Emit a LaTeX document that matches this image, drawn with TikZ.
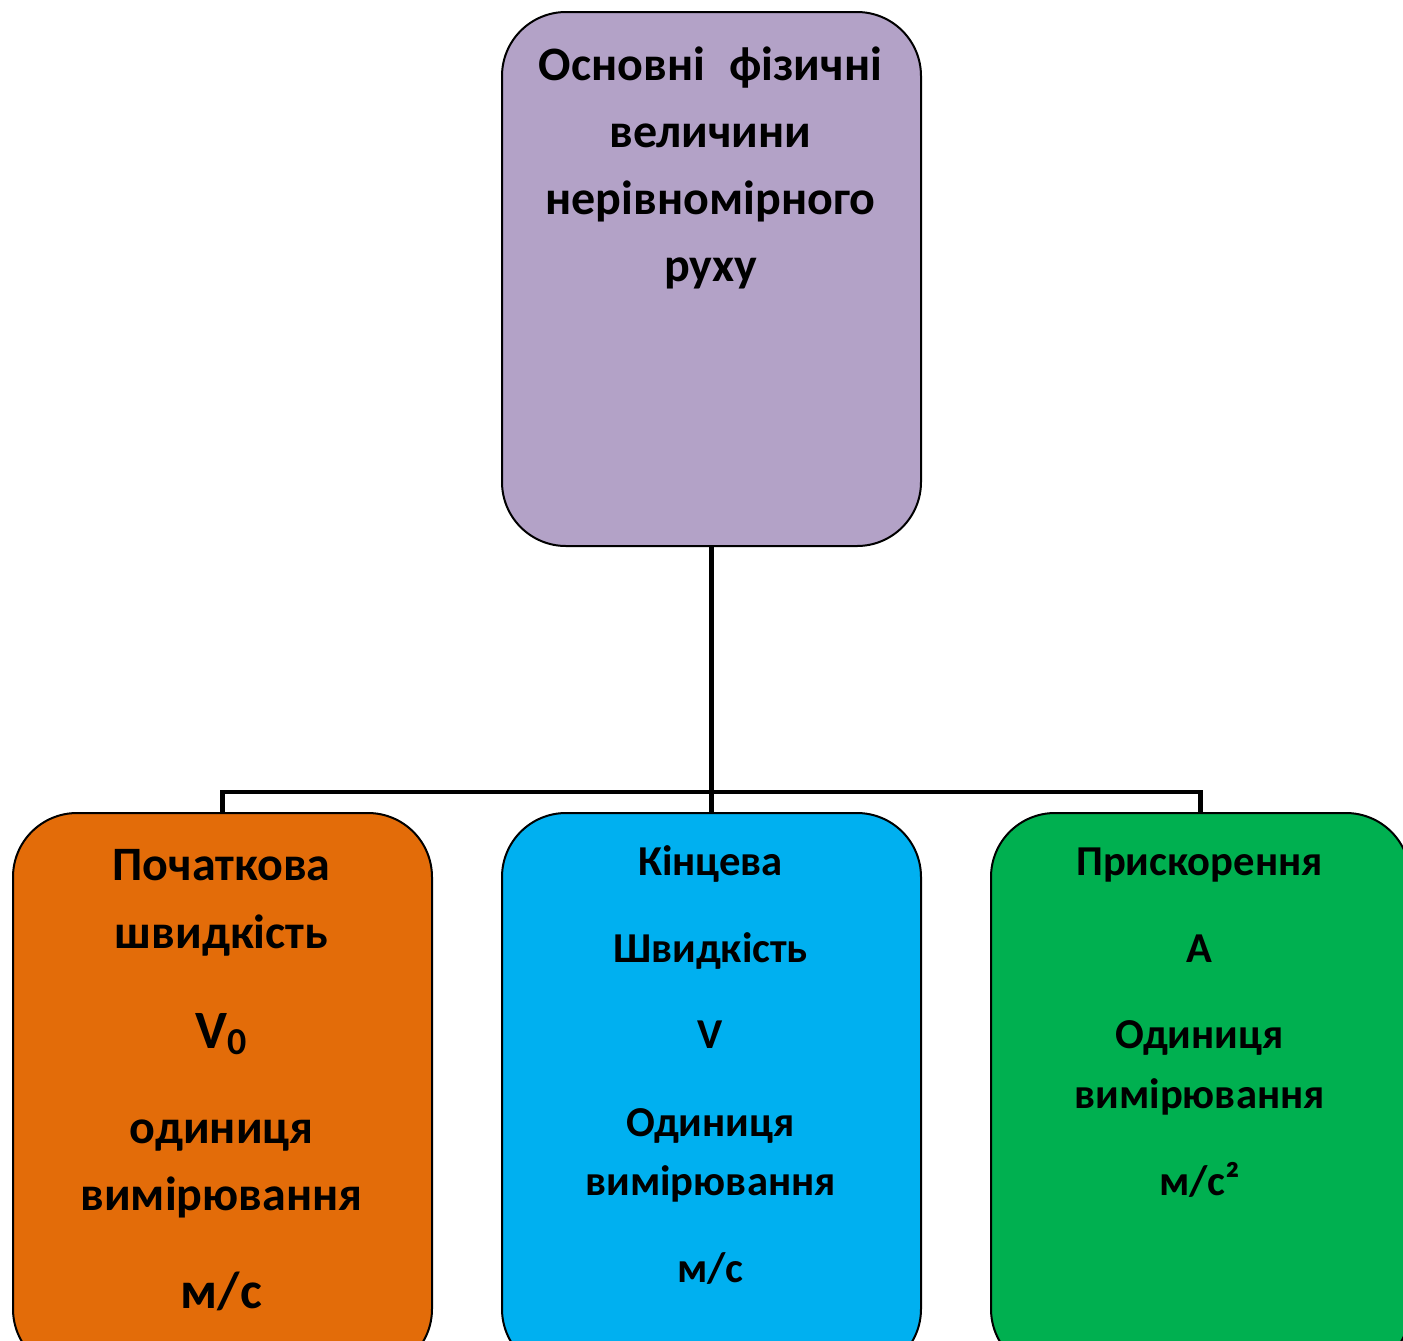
\documentclass[tikz,border=0pt]{standalone}
\usepackage{fontspec}
\setmainfont{Carlito}
\definecolor{cpurple}{HTML}{B3A2C7}
\definecolor{corange}{HTML}{E36C09}
\definecolor{cblue}{HTML}{00B0F0}
\definecolor{cgreen}{HTML}{00B050}
\tikzset{
  box/.style={draw=black, line width=1pt, rounded corners=32pt, minimum width=209.5pt, inner sep=0pt, anchor=north west},
  lbig/.style={anchor=base, inner sep=0pt, font=\fontsize{24}{28}\selectfont\bfseries},
  lsmall/.style={anchor=base, inner sep=0pt, font=\fontsize{21.3}{25}\selectfont\bfseries},
  conn/.style={line width=2.2pt, draw=black}
}
\begin{document}
\begin{tikzpicture}[x=0.5pt,y=-0.5pt]
\useasboundingbox (0,0) rectangle (1403,1340);
\clip (0,0) rectangle (1403,1340);
\fill[white] (0,0) rectangle (1403,1340);
% boxes
\node[box, fill=cpurple, minimum height=267pt] (top) at (501,11) {};
\node[box, fill=corange, minimum height=280pt] (b1) at (12,812) {};
\node[box, fill=cblue, minimum height=280pt] (b2) at (501,812) {};
\node[box, fill=cgreen, minimum height=280pt] (b3) at (990,812) {};
% connectors
\coordinate (jl) at (b1.north |- 0,792);
\coordinate (jc) at (b2.north |- 0,792);
\coordinate (jr) at (b3.north |- 0,792);
\draw[conn] (top.south) -- (jc);
\draw[conn, line join=miter] (b1.north) -- (jl) -- (jr) -- (b3.north);
\draw[conn] (jc) -- (b2.north);
% top text
\node[lbig] (t1) at (710.5,80) {Основні\hspace{0.5em}фізичні};
\node[lbig] (t2) at (710.5,147) {величини};
\node[lbig] (t3) at (710.5,214) {нерівномірного};
\node[lbig] (t4) at (710.5,281) {руху};
% orange text
\node[lbig] (o1) at (221.5,880) {Початкова};
\node[lbig] (o2) at (221.5,948) {швидкість};
\node[lbig] (o3) at (221.5,1048) {\fontsize{27}{30}\selectfont V\raisebox{-0.25ex}{\fontsize{19}{20}\selectfont 0}};
\node[lbig] (o4) at (221.5,1143) {одиниця};
\node[lbig] (o5) at (221.5,1210) {вимірювання};
\node[lbig] (o6) at (221.5,1308) {\fontsize{26}{30}\selectfont м/с};
% blue text
\node[lsmall] (c1) at (710.5,875) {Кінцева};
\node[lsmall] (c2) at (710.5,962) {Швидкість};
\node[lsmall] (c3) at (710.5,1048) {V};
\node[lsmall] (c4) at (710.5,1136) {Одиниця};
\node[lsmall] (c5) at (710.5,1195) {вимірювання};
\node[lsmall] (c6) at (710.5,1282) {м/с};
% green text
\node[lsmall] (g1) at (1199.5,875) {Прискорення};
\node[lsmall] (g2) at (1199.5,962) {А};
\node[lsmall] (g3) at (1199.5,1048) {Одиниця};
\node[lsmall] (g4) at (1199.5,1108) {вимірювання};
\node[lsmall] (g5) at (1199.5,1195) {м/с²};
\end{tikzpicture}
\end{document}
